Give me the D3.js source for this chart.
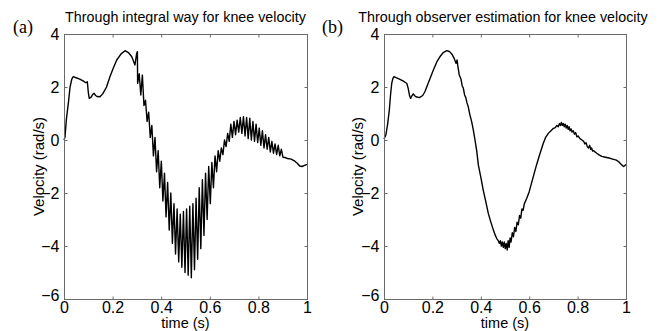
<!DOCTYPE html>
<html><head><meta charset="utf-8">
<script src="https://cdn.jsdelivr.net/npm/d3@7"></script>
<style>body{margin:0;background:#fff}svg{display:block}</style>
</head><body>
<svg id="c" width="664" height="331"></svg>
<script>
// ---- data ----
const titles = ["Through integral way for knee velocity", "Through observer estimation for knee velocity"];
const panelLabels = ["(a)", "(b)"];
const xTicks = [0, 0.2, 0.4, 0.6, 0.8, 1];
const xTickLabels = ["0", "0.2", "0.4", "0.6", "0.8", "1"];
const yTicks = [-6, -4, -2, 0, 2, 4];
const xLabel = "time (s)";
const yLabel = "Velocity (rad/s)";

const timeA = [0,0.004,0.01,0.018,0.025,0.032,0.038,0.05,0.065,0.08,0.09,0.096,0.1,0.104,0.112,0.118,0.124,0.13,0.136,0.148,0.16,0.175,0.189,0.203,0.217,0.235,0.251,0.265,0.279,0.292,0.299,0.302,0.303,
0.3095,0.316,0.3225,0.329,0.3355,0.342,0.3485,0.355,0.3615,0.368,0.3745,0.381,0.3875,0.394,0.4005,0.407,0.4135,0.42,0.4265,0.433,0.4395,0.446,0.4525,0.459,0.4655,0.472,0.4785,0.485,0.4915,0.498,0.5045,0.511,0.5175,0.524,0.5305,0.537,0.5435,0.55,0.5565,0.563,0.5695,0.576,0.5825,0.589,0.5955,0.602,0.6085,0.615,0.6215,0.628,0.6345,0.641,0.6475,0.654,0.6605,0.667,0.6735,0.68,0.6865,0.693,0.6995,0.706,0.7125,0.719,0.7255,0.732,0.7385,0.745,0.7515,0.758,0.7645,0.771,0.7775,0.784,0.7905,0.797,0.8035,0.81,0.8165,0.823,0.8295,0.836,0.8425,0.849,0.8555,0.862,0.8685,0.875,0.8815,0.888,0.8945,0.901,
0.91,0.92,0.935,0.95,0.96,0.97,0.98,0.99,1.0];
const velA = [0.0,0.1,0.8,1.4,2.0,2.3,2.39,2.35,2.3,2.22,2.16,2.2,1.8,1.57,1.62,1.72,1.76,1.68,1.64,1.63,1.75,2.0,2.39,2.72,3.02,3.25,3.37,3.3,3.14,2.83,3.27,3.33,2.14,
2.5,1.7,2.45,1.3,1.5,0.7,1.05,0.1,0.55,-0.6,0.1,-1.2,-0.4,-1.8,-0.8,-2.3,-1.25,-2.9,-1.6,-3.4,-2.0,-3.9,-2.4,-4.3,-2.6,-4.6,-2.8,-4.8,-2.7,-5.0,-2.6,-5.1,-2.5,-5.2,-2.4,-4.9,-2.2,-4.5,-1.8,-4.1,-1.5,-3.6,-1.25,-3.0,-1.0,-2.4,-0.85,-1.8,-0.6,-1.2,-0.4,-0.8,-0.3,-0.55,0.0,-0.25,0.25,-0.05,0.6,0.1,0.7,0.2,0.75,0.3,0.85,0.25,0.88,0.15,0.85,0.05,0.82,0.0,0.7,-0.05,0.6,-0.1,0.45,-0.2,0.35,-0.3,0.2,-0.35,0.1,-0.45,-0.05,-0.5,-0.15,-0.55,-0.2,-0.6,-0.35,-0.65,
-0.66,-0.7,-0.72,-0.8,-0.88,-0.98,-1.0,-0.96,-0.92];

const timeB = [0,0.008,0.015,0.022,0.027,0.032,0.037,0.041,0.05,0.066,0.08,0.09,0.094,0.1,0.105,0.11,0.116,0.121,0.127,0.132,0.146,0.16,0.169,0.185,0.204,0.22,0.231,0.245,0.259,0.27,0.28,0.29,0.298,0.302,0.305,0.311,0.318,0.323,0.328,0.333,0.338,0.343,0.348,0.355,0.362,0.369,0.376,0.383,0.39,0.4,0.41,0.42,0.431,0.44,0.452,0.46,0.466,0.472,0.477,0.481,0.485,0.489,0.493,0.497,0.501,0.505,0.509,0.513,0.517,0.521,0.525,0.53,0.535,0.54,0.545,0.55,0.555,0.56,0.565,0.57,0.575,0.58,0.59,0.6,0.617,0.63,0.645,0.658,0.668,0.679,0.69,0.7,0.708,0.714,0.72,0.725,0.729,0.733,0.737,0.741,0.745,0.749,0.753,0.757,0.761,0.765,0.769,0.773,0.777,0.782,0.787,0.792,0.797,0.802,0.81,0.818,0.825,0.83,0.835,0.84,0.845,0.85,0.854,0.858,0.862,0.866,0.872,0.879,0.89,0.9,0.915,0.93,0.945,0.96,0.97,0.98,0.99,0.995,1.0];
const velB = [0.04,0.2,0.6,1.13,1.7,2.14,2.33,2.39,2.35,2.29,2.22,2.16,2.14,1.95,1.7,1.57,1.68,1.74,1.67,1.63,1.6,1.68,1.82,2.2,2.64,2.98,3.14,3.3,3.37,3.34,3.25,3.08,2.89,3.02,2.8,2.45,2.3,2.05,1.95,1.7,1.6,1.4,1.26,0.95,0.7,0.38,0.0,-0.4,-0.95,-1.4,-1.89,-2.3,-2.77,-3.05,-3.4,-3.6,-3.72,-3.8,-3.9,-3.8,-4.0,-3.85,-4.05,-3.85,-4.1,-3.9,-4.15,-3.8,-4.05,-3.7,-3.85,-3.5,-3.65,-3.3,-3.45,-3.1,-3.2,-2.85,-2.95,-2.6,-2.65,-2.4,-2.2,-1.95,-1.38,-0.95,-0.5,-0.13,0.1,0.25,0.35,0.44,0.47,0.55,0.5,0.62,0.55,0.66,0.55,0.62,0.5,0.6,0.45,0.55,0.4,0.5,0.35,0.42,0.3,0.35,0.22,0.28,0.12,0.15,0.05,0.0,-0.05,-0.15,-0.1,-0.25,-0.3,-0.2,-0.35,-0.3,-0.42,-0.4,-0.45,-0.5,-0.57,-0.62,-0.65,-0.68,-0.72,-0.76,-0.82,-0.92,-1.0,-0.97,-0.92];

// ---- drawing ----
const svg = d3.select("#c");
const panels = [
  {x0: 64, x1: 307, t: timeA, v: velA, lx: 13, ylx: 39},
  {x0: 384, x1: 626, t: timeB, v: velB, lx: 322, ylx: 358}
];
const yTop = 34, yBot = 299;
const axisColor = "#6a6a6a";
const font = "Liberation Sans, Arial, sans-serif";

panels.forEach((p, i) => {
  const x = d3.scaleLinear().domain([0, 1]).range([p.x0, p.x1]);
  const y = d3.scaleLinear().domain([-6, 4]).range([yBot, yTop]);
  const g = svg.append("g");

  // line
  const pts = p.t.map((t, k) => [t, p.v[k]]);
  g.append("path").datum(pts)
    .attr("fill", "none").attr("stroke", "#000").attr("stroke-width", 1.4)
    .attr("stroke-linejoin", "round")
    .attr("d", d3.line().x(d => x(d[0])).y(d => y(d[1])));

  // box
  g.append("rect").attr("x", p.x0 + 0.5).attr("y", yTop + 0.5)
    .attr("width", p.x1 - p.x0).attr("height", yBot - yTop)
    .attr("fill", "none").attr("stroke", axisColor).attr("stroke-width", 1);

  // axes with inward ticks
  const xb = d3.axisBottom(x).tickValues(xTicks).tickFormat((d, k) => xTickLabels[k]).tickSizeInner(-3).tickSizeOuter(0).tickPadding(5);
  const xt = d3.axisTop(x).tickValues(xTicks).tickFormat("").tickSizeInner(-3).tickSizeOuter(0);
  const yl = d3.axisLeft(y).tickValues(yTicks).tickFormat(d3.format("d")).tickSizeInner(-3).tickSizeOuter(0).tickPadding(5);
  const yr = d3.axisRight(y).tickValues(yTicks).tickFormat("").tickSizeInner(-3).tickSizeOuter(0);

  const ax = [
    g.append("g").attr("transform", `translate(0,${yBot + 0.5})`).call(xb),
    g.append("g").attr("transform", `translate(0,${yTop + 0.5})`).call(xt),
    g.append("g").attr("transform", `translate(${p.x0 + 0.5},0)`).call(yl),
    g.append("g").attr("transform", `translate(${p.x1 + 0.5},0)`).call(yr)
  ];
  ax.forEach(a => {
    a.select(".domain").remove();
    a.selectAll(".tick line").attr("stroke", axisColor);
    a.selectAll("text").attr("fill", "#000").attr("font-family", font).attr("font-size", 16);
  });
  ax[0].selectAll(".tick text").attr("dy", "0.55em");
  ax[2].selectAll(".tick text").attr("dy", (d) => d === -6 ? "0.1em" : "0.35em");

  // title
  svg.append("text").attr("x", (p.x0 + p.x1) / 2 + (i ? -2 : 0)).attr("y", 22)
    .attr("text-anchor", "middle").attr("font-family", font).attr("font-size", 14.3)
    .text(titles[i]);
  // panel label
  svg.append("text").attr("x", p.lx).attr("y", 33)
    .attr("font-family", "Liberation Serif, Times New Roman, serif").attr("font-size", 18)
    .text(panelLabels[i]);
  // x label
  svg.append("text").attr("x", (p.x0 + p.x1) / 2).attr("y", 328)
    .attr("text-anchor", "middle").attr("font-family", font).attr("font-size", 14.5)
    .text(xLabel);
  // y label
  svg.append("text").attr("transform", `translate(${p.ylx},${(yTop + yBot) / 2}) rotate(-90)`)
    .attr("text-anchor", "middle").attr("dy", "0.35em").attr("font-family", font).attr("font-size", 15)
    .text(yLabel);
});
</script>
</body></html>
